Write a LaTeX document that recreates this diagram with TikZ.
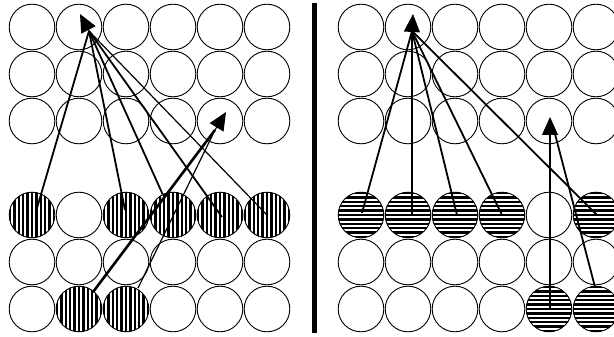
\documentclass[tikz,border=0pt]{standalone}
\usetikzlibrary{arrows.meta}
\tikzset{
 circ/.style={circle, draw, line width=0.9pt, minimum size=45.6pt, inner sep=0pt},
 vhatch/.style={circ, path picture={\foreach \k in {-6,...,6} \draw[line width=2.5pt] ([shift={(\k*4.4,-30)}]path picture bounding box.center) -- ++(0,60);}},
 hhatch/.style={circ, path picture={\foreach \k in {-6,...,6} \draw[line width=2.5pt] ([shift={(-30,\k*4.4)}]path picture bounding box.center) -- ++(60,0);}},
 ln/.style={line width=1.8pt},
 thinln/.style={line width=1.2pt},
 thickln/.style={line width=2.6pt},
 head/.style={-{Triangle[length=18pt,width=16pt]}, line width=1pt},
}
\begin{document}
\begin{tikzpicture}[x=1pt,y=-1pt]
\path[use as bounding box, clip] (0,0) rectangle (614,337);
\fill[white] (0,0) rectangle (614,337);
% left panel plain circles
\foreach \r/\y in {1/27,2/74,3/121,5/262}
  \foreach \c in {1,...,6} {
    \node[circ] (L\r\c) at ({32+47*(\c-1)},\y) {};
    \node[circ] (R\r\c) at ({361+47*(\c-1)},\y) {};
  }
% left row 4 and 6
\node[circ] (L42) at (79,215) {};
\foreach \c in {1,3,4,5,6} \node[vhatch] (L4\c) at ({32+47*(\c-1)},215) {};
\foreach \c in {1,4,5,6} \node[circ] (L6\c) at ({32+47*(\c-1)},309) {};
\foreach \c in {2,3} \node[vhatch] (L6\c) at ({32+47*(\c-1)},309) {};
% right row 4 and 6
\node[circ] (R45) at (549,215) {};
\foreach \c in {1,2,3,4,6} \node[hhatch] (R4\c) at ({361+47*(\c-1)},215) {};
\foreach \c in {1,2,3,4} \node[circ] (R6\c) at ({361+47*(\c-1)},309) {};
\foreach \c in {5,6} \node[hhatch] (R6\c) at ({361+47*(\c-1)},309) {};
% separator bar
\fill (312,3) rectangle (317.3,333);
% arrow coordinates
\coordinate (LT1) at (80,14);  \coordinate (LB1) at (89,31);
\coordinate (LT2) at (226,112); \coordinate (LB2) at (215,130);
\coordinate (RT1) at (413,14); \coordinate (RB1) at (412,31);
\coordinate (RT2) at (550,117); \coordinate (RB2) at (550,134);
% left connectors
\draw[ln] ([shift={(5,-7)}]L41.center) -- (LB1);
\draw[ln] ([shift={(-1,-5)}]L43.center) -- (LB1);
\draw[ln] ([shift={(-10,-20)}]L44.center) -- (LB1);
\draw[ln] ([shift={(2,2)}]L45.center) -- (LB1);
\draw[thinln] (L46.center) -- (LB1);
\draw[thickln] ([shift={(14,-17)}]L62.center) -- (LB2);
\draw[thinln] ([shift={(12,-21)}]L63.center) -- (LB2);
\draw[head] (LB1) -- (LT1);
\draw[head] (LB2) -- (LT2);
% right connectors
\draw[ln] ([shift={(1,-2)}]R41.center) -- (RB1);
\draw[ln] ([shift={(4,0)}]R42.center) -- (RB1);
\draw[ln] ([shift={(2,0)}]R43.center) -- (RB1);
\draw[ln] (R44.center) -- (RB1);
\draw[ln] ([shift={(1,0)}]R46.center) -- (RB1);
\draw[ln] ([shift={(1,1)}]R65.center) -- (RB2);
\draw[ln] ([shift={(-1,-22)}]R66.center) -- ([shift={(5,0)}]RB2);
\draw[head] (RB1) -- (RT1);
\draw[head] (RB2) -- (RT2);
\end{tikzpicture}
\end{document}
